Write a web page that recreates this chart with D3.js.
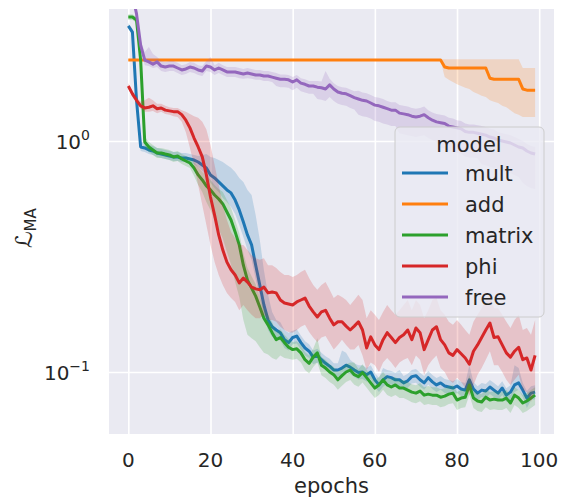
<!DOCTYPE html>
<html>
<head>
<meta charset="utf-8">
<script src="https://cdn.jsdelivr.net/npm/d3@7"></script>
<style>
body { margin: 0; background: #fff; }
text { font-family: "DejaVu Sans", sans-serif; fill: #262626; }
</style>
</head>
<body>
<script>
const width = 562;
const height = 499;

const models = ["mult", "add", "matrix", "phi", "free"];
const colors = ["#1f77b4", "#ff7f0e", "#2ca02c", "#d62728", "#9467bd"];
const epochs = d3.range(100);
const xTicks = [0, 20, 40, 60, 80, 100];
const yTicks = [0.1, 1];
const yTickExp = ["\u22121", "0"];

const multMean = [3.15,2.96,1.50,0.942,0.933,0.914,0.905,0.887,0.878,0.870,
0.861,0.853,0.853,0.844,0.844,0.836,0.827,0.811,0.787,0.764,
0.713,0.692,0.665,0.639,0.614,0.596,0.555,0.503,0.446,0.392,
0.355,0.290,0.238,0.195,0.168,0.157,0.152,0.148,0.138,0.134,
0.141,0.143,0.134,0.127,0.123,0.116,0.118,0.113,0.109,0.106,
0.102,0.102,0.104,0.107,0.105,0.102,0.0994,0.100,0.0974,0.100,
0.0925,0.0879,0.0925,0.0955,0.0945,0.0925,0.0925,0.0897,0.0916,0.0955,
0.0964,0.0925,0.0897,0.0945,0.0906,0.0879,0.0897,0.0870,0.0861,0.0852,
0.0870,0.0844,0.0835,0.0925,0.0844,0.0810,0.0835,0.0827,0.0861,0.0835,
0.0810,0.0852,0.0794,0.0818,0.0879,0.0897,0.0835,0.0771,0.0810,0.0818];
const multHi = [3.24,3.05,1.55,0.990,0.981,0.961,0.951,0.932,0.923,0.914,
0.905,0.897,0.897,0.887,0.887,0.879,0.869,0.861,0.870,0.879,
0.853,0.845,0.828,0.812,0.788,0.765,0.734,0.692,0.665,0.614,
0.584,0.477,0.373,0.276,0.216,0.182,0.168,0.164,0.152,0.148,
0.151,0.153,0.144,0.136,0.132,0.124,0.126,0.121,0.117,0.114,
0.109,0.109,0.124,0.121,0.113,0.109,0.107,0.107,0.104,0.107,
0.0992,0.0942,0.104,0.102,0.101,0.0992,0.102,0.0962,0.0982,0.102,
0.103,0.0992,0.0962,0.101,0.0971,0.0942,0.0962,0.0933,0.0923,0.0913,
0.0933,0.0905,0.0895,0.107,0.0905,0.0868,0.0895,0.0887,0.0923,0.0895,
0.0868,0.0913,0.0851,0.0877,0.107,0.104,0.0895,0.0827,0.0868,0.0877];
const multLo = [3.06,2.87,1.46,0.905,0.896,0.878,0.869,0.852,0.843,0.836,
0.827,0.819,0.819,0.811,0.811,0.803,0.794,0.772,0.741,0.705,
0.658,0.626,0.602,0.567,0.545,0.518,0.483,0.433,0.384,0.338,
0.306,0.252,0.211,0.176,0.152,0.142,0.140,0.137,0.127,0.124,
0.132,0.133,0.125,0.118,0.115,0.108,0.110,0.105,0.102,0.0989,
0.0952,0.0952,0.0970,0.0998,0.0980,0.0952,0.0927,0.0933,0.0909,0.0933,
0.0863,0.0820,0.0863,0.0891,0.0882,0.0863,0.0863,0.0837,0.0855,0.0891,
0.0899,0.0863,0.0837,0.0882,0.0845,0.0820,0.0837,0.0812,0.0803,0.0795,
0.0812,0.0787,0.0779,0.0863,0.0787,0.0756,0.0779,0.0772,0.0803,0.0779,
0.0756,0.0795,0.0741,0.0763,0.0820,0.0837,0.0779,0.0698,0.0756,0.0763];

const addMean = [2.24,2.24,2.24,2.24,2.24,2.24,2.24,2.24,2.24,2.24,
2.24,2.24,2.24,2.24,2.24,2.24,2.24,2.24,2.24,2.24,
2.24,2.24,2.24,2.24,2.24,2.24,2.24,2.24,2.24,2.24,
2.24,2.24,2.24,2.24,2.24,2.24,2.24,2.24,2.24,2.24,
2.24,2.24,2.24,2.24,2.24,2.24,2.24,2.24,2.24,2.24,
2.24,2.24,2.24,2.24,2.24,2.24,2.24,2.24,2.24,2.24,
2.24,2.24,2.24,2.24,2.24,2.24,2.24,2.24,2.24,2.24,
2.24,2.24,2.24,2.24,2.24,2.24,2.24,2.09,2.07,2.07,
2.07,2.07,2.07,2.07,2.07,2.07,2.07,2.07,1.87,1.85,
1.85,1.85,1.85,1.85,1.85,1.85,1.68,1.66,1.66,1.66];
const addHi = [2.26,2.26,2.26,2.26,2.26,2.26,2.26,2.26,2.26,2.26,
2.26,2.26,2.26,2.26,2.26,2.26,2.26,2.26,2.26,2.26,
2.26,2.26,2.26,2.26,2.26,2.26,2.26,2.26,2.26,2.26,
2.26,2.26,2.26,2.26,2.26,2.26,2.26,2.26,2.26,2.26,
2.26,2.26,2.26,2.26,2.26,2.26,2.26,2.26,2.26,2.26,
2.26,2.26,2.26,2.26,2.26,2.26,2.26,2.26,2.26,2.26,
2.26,2.26,2.26,2.26,2.26,2.26,2.26,2.26,2.26,2.26,
2.26,2.26,2.26,2.26,2.26,2.26,2.26,2.26,2.26,2.26,
2.26,2.26,2.26,2.26,2.26,2.26,2.26,2.26,2.26,2.26,
2.26,2.26,2.26,2.26,2.26,2.26,2.07,2.07,2.07,2.07];
const addLo = [2.22,2.22,2.22,2.22,2.22,2.22,2.22,2.22,2.22,2.22,
2.22,2.22,2.22,2.22,2.22,2.22,2.22,2.22,2.22,2.22,
2.22,2.22,2.22,2.22,2.22,2.22,2.22,2.22,2.22,2.22,
2.22,2.22,2.22,2.22,2.22,2.22,2.22,2.22,2.22,2.22,
2.22,2.22,2.22,2.22,2.22,2.22,2.22,2.22,2.22,2.22,
2.22,2.22,2.22,2.22,2.22,2.22,2.22,2.22,2.22,2.22,
2.22,2.22,2.22,2.22,2.22,2.22,2.22,2.22,2.22,2.22,
2.22,2.22,2.22,2.22,2.22,2.22,2.22,1.89,1.84,1.80,
1.76,1.73,1.70,1.68,1.63,1.60,1.57,1.55,1.50,1.48,
1.46,1.42,1.40,1.36,1.32,1.30,1.27,1.27,1.27,1.27];

const matrixMean = [3.44,3.44,3.34,2.24,0.990,0.942,0.914,0.887,0.887,0.878,
0.870,0.853,0.861,0.836,0.819,0.803,0.764,0.713,0.678,0.639,
0.614,0.584,0.561,0.534,0.493,0.455,0.404,0.355,0.290,0.250,
0.231,0.213,0.191,0.171,0.160,0.148,0.138,0.141,0.134,0.128,
0.125,0.126,0.121,0.113,0.109,0.116,0.121,0.107,0.104,0.100,
0.0974,0.0925,0.0964,0.100,0.102,0.0974,0.0955,0.0994,0.0945,0.0897,
0.0852,0.0879,0.0925,0.0879,0.0861,0.0879,0.0852,0.0852,0.0835,0.0818,
0.0810,0.0827,0.0794,0.0802,0.0794,0.0794,0.0778,0.0786,0.0802,0.0810,
0.0756,0.0771,0.0778,0.0879,0.0771,0.0749,0.0741,0.0778,0.0756,0.0763,
0.0756,0.0756,0.0771,0.0734,0.0794,0.0771,0.0734,0.0749,0.0771,0.0794];
const matrixHi = [3.54,3.54,3.44,2.31,1.04,0.990,0.961,0.932,0.932,0.923,
0.914,0.897,0.905,0.879,0.861,0.844,0.811,0.772,0.734,0.706,
0.678,0.645,0.620,0.602,0.556,0.513,0.455,0.400,0.327,0.282,
0.260,0.240,0.211,0.189,0.177,0.164,0.149,0.153,0.145,0.139,
0.135,0.136,0.131,0.122,0.118,0.126,0.140,0.116,0.113,0.108,
0.105,0.100,0.104,0.108,0.110,0.110,0.103,0.108,0.102,0.0971,
0.0923,0.0952,0.100,0.0952,0.0932,0.0952,0.0923,0.0923,0.0904,0.0886,
0.0877,0.0896,0.0860,0.0869,0.0860,0.0860,0.0843,0.0851,0.0869,0.0877,
0.0819,0.0835,0.0843,0.0971,0.0835,0.0811,0.0803,0.0843,0.0819,0.0826,
0.0819,0.0819,0.0835,0.0795,0.0860,0.0835,0.0795,0.0811,0.0835,0.0860];
const matrixLo = [3.34,3.34,3.24,2.17,0.942,0.896,0.870,0.844,0.844,0.835,
0.828,0.812,0.819,0.795,0.779,0.764,0.705,0.645,0.602,0.545,
0.503,0.455,0.416,0.377,0.331,0.291,0.245,0.211,0.168,0.145,
0.140,0.136,0.128,0.121,0.119,0.115,0.113,0.118,0.115,0.114,
0.113,0.114,0.110,0.102,0.0986,0.105,0.110,0.0968,0.0941,0.0905,
0.0881,0.0837,0.0872,0.0905,0.0923,0.0881,0.0864,0.0900,0.0855,0.0812,
0.0771,0.0795,0.0837,0.0795,0.0779,0.0795,0.0771,0.0771,0.0756,0.0740,
0.0733,0.0748,0.0719,0.0726,0.0719,0.0719,0.0704,0.0711,0.0726,0.0733,
0.0684,0.0698,0.0704,0.0795,0.0698,0.0678,0.0671,0.0704,0.0684,0.0690,
0.0684,0.0684,0.0698,0.0664,0.0719,0.0698,0.0664,0.0678,0.0698,0.0719];

const phiMean = [1.73,1.60,1.50,1.42,1.39,1.40,1.42,1.38,1.39,1.36,
1.35,1.34,1.34,1.30,1.23,1.14,1.03,0.942,0.853,0.713,
0.572,0.478,0.392,0.337,0.299,0.277,0.263,0.243,0.255,0.245,
0.233,0.229,0.227,0.233,0.220,0.222,0.220,0.205,0.199,0.197,
0.195,0.201,0.205,0.209,0.193,0.182,0.173,0.182,0.185,0.171,
0.160,0.165,0.165,0.158,0.152,0.158,0.165,0.152,0.127,0.142,
0.131,0.125,0.138,0.148,0.141,0.134,0.141,0.145,0.152,0.138,
0.155,0.148,0.125,0.138,0.152,0.157,0.138,0.131,0.121,0.118,
0.125,0.120,0.115,0.108,0.123,0.131,0.141,0.152,0.163,0.141,
0.142,0.131,0.121,0.116,0.123,0.128,0.113,0.115,0.102,0.118];
const phiHi = [1.78,1.65,1.55,1.48,1.50,1.54,1.50,1.45,1.45,1.42,
1.40,1.39,1.39,1.36,1.34,1.31,1.28,1.26,1.21,1.12,
0.961,0.787,0.645,0.528,0.455,0.404,0.380,0.355,0.355,0.337,
0.321,0.311,0.306,0.311,0.290,0.290,0.282,0.271,0.263,0.263,
0.258,0.263,0.271,0.277,0.255,0.238,0.227,0.238,0.245,0.227,
0.209,0.216,0.211,0.205,0.195,0.205,0.216,0.205,0.171,0.185,
0.177,0.168,0.182,0.195,0.185,0.177,0.185,0.195,0.205,0.185,
0.205,0.195,0.171,0.185,0.205,0.209,0.185,0.177,0.165,0.160,
0.168,0.160,0.152,0.145,0.165,0.177,0.189,0.205,0.216,0.189,
0.189,0.177,0.165,0.155,0.168,0.177,0.152,0.155,0.145,0.168];
const phiLo = [1.68,1.55,1.46,1.38,1.34,1.34,1.35,1.32,1.34,1.31,
1.30,1.28,1.27,1.21,1.09,0.933,0.787,0.645,0.528,0.433,
0.355,0.299,0.263,0.238,0.220,0.209,0.201,0.185,0.195,0.185,
0.177,0.171,0.171,0.177,0.168,0.168,0.165,0.157,0.152,0.149,
0.148,0.152,0.157,0.160,0.149,0.141,0.135,0.141,0.143,0.134,
0.125,0.131,0.138,0.131,0.125,0.125,0.131,0.118,0.102,0.110,
0.107,0.100,0.110,0.115,0.110,0.104,0.110,0.113,0.115,0.107,
0.118,0.113,0.0974,0.107,0.113,0.118,0.104,0.100,0.0925,0.0897,
0.0945,0.0906,0.0852,0.0794,0.0879,0.0974,0.104,0.113,0.123,0.107,
0.107,0.100,0.0925,0.0879,0.0925,0.0974,0.0835,0.0818,0.0741,0.0835];

const freeMean = [5.5,4.3,3.55,2.60,2.24,2.20,2.15,2.20,2.11,2.09,
2.11,2.11,2.07,2.03,2.05,2.09,2.07,2.03,2.01,2.11,
2.09,2.03,2.07,2.03,1.99,1.99,1.99,1.97,1.95,1.97,
1.95,1.93,1.93,1.91,1.91,1.89,1.87,1.85,1.85,1.84,
1.80,1.84,1.78,1.76,1.73,1.73,1.71,1.70,1.68,1.75,
1.68,1.63,1.61,1.60,1.57,1.54,1.52,1.50,1.49,1.46,
1.43,1.42,1.40,1.38,1.36,1.36,1.32,1.31,1.30,1.28,
1.27,1.28,1.30,1.26,1.23,1.21,1.20,1.19,1.16,1.15,
1.14,1.13,1.10,1.09,1.09,1.08,1.07,1.06,1.04,1.03,
1.01,1.00,0.990,0.980,0.961,0.942,0.933,0.905,0.887,0.878];
const freeHi = [5.78,4.52,3.73,2.73,2.43,2.55,2.38,2.31,2.22,2.20,
2.22,2.22,2.18,2.13,2.15,2.20,2.18,2.13,2.11,2.22,
2.31,2.13,2.18,2.13,2.09,2.09,2.09,2.07,2.05,2.07,
2.05,2.03,2.03,2.01,2.01,1.99,1.97,1.94,1.94,1.93,
1.89,1.93,1.87,1.85,1.82,1.82,1.82,1.81,2.01,1.86,
1.78,1.73,1.71,1.70,1.67,1.64,1.65,1.62,1.61,1.58,
1.55,1.54,1.52,1.49,1.47,1.47,1.43,1.42,1.41,1.39,
1.38,1.39,1.41,1.36,1.33,1.31,1.30,1.29,1.26,1.25,
1.23,1.22,1.19,1.18,1.18,1.17,1.16,1.15,1.13,1.12,
1.09,1.08,1.07,1.06,1.04,1.02,1.00,0.970,0.951,0.941];
const freeLo = [5.24,4.10,3.38,2.47,2.13,2.11,2.07,2.09,2.01,1.99,
2.01,2.01,1.97,1.93,1.95,1.99,1.97,1.93,1.91,2.01,
1.99,1.93,1.97,1.93,1.89,1.89,1.89,1.87,1.86,1.87,
1.86,1.84,1.84,1.82,1.82,1.80,1.73,1.71,1.71,1.70,
1.66,1.70,1.64,1.62,1.60,1.60,1.52,1.51,1.49,1.55,
1.49,1.45,1.43,1.42,1.39,1.37,1.30,1.28,1.27,1.25,
1.22,1.21,1.19,1.18,1.16,1.16,1.08,1.07,1.06,1.05,
1.04,1.05,1.06,1.03,1.01,0.991,0.935,0.927,0.904,0.896,
0.888,0.880,0.857,0.849,0.849,0.841,0.794,0.786,0.772,0.764,
0.749,0.742,0.735,0.727,0.713,0.699,0.659,0.639,0.626,0.620];

const means = [multMean, addMean, matrixMean, phiMean, freeMean];
const lows = [multLo, addLo, matrixLo, phiLo, freeLo];
const highs = [multHi, addHi, matrixHi, phiHi, freeHi];

// plot area box
const box = {left: 109, right: 554, top: 9, bottom: 434};

const x = d3.scaleLinear().domain([-4.7, 103.6]).range([box.left, box.right]);
const y = d3.scaleLog().domain([0.0539, 3.727]).range([box.bottom, box.top]);

const svg = d3.select("body")
    .append("svg")
    .attr("width", width)
    .attr("height", height);

svg.append("defs").append("clipPath")
    .attr("id", "plotclip")
    .append("rect")
    .attr("x", box.left).attr("y", box.top)
    .attr("width", box.right - box.left).attr("height", box.bottom - box.top);

svg.append("rect")
    .attr("x", box.left).attr("y", box.top)
    .attr("width", box.right - box.left).attr("height", box.bottom - box.top)
    .attr("fill", "#eaeaf2");

// grid
let gx = svg.append("g")
    .attr("transform", `translate(0,${box.bottom})`)
    .call(d3.axisBottom(x).tickValues(xTicks).tickSize(-(box.bottom - box.top)).tickFormat(""));
let gy = svg.append("g")
    .attr("transform", `translate(${box.left},0)`)
    .call(d3.axisLeft(y).tickValues(yTicks).tickSize(-(box.right - box.left)).tickFormat(""));
[gx, gy].forEach(g => {
    g.select(".domain").remove();
    g.selectAll(".tick line").attr("stroke", "#fff").attr("stroke-width", 1.6);
});

// bands and lines
const plot = svg.append("g").attr("clip-path", "url(#plotclip)");

const area = (lo, hi) => d3.area()
    .x(i => x(epochs[i]))
    .y0(i => y(lo[i]))
    .y1(i => y(hi[i]));

const line = (m) => d3.line()
    .x(i => x(epochs[i]))
    .y(i => y(m[i]));

models.forEach((name, k) => {
    plot.append("path")
        .attr("d", area(lows[k], highs[k])(epochs))
        .attr("fill", colors[k])
        .attr("fill-opacity", 0.2)
        .attr("stroke", "none");
    plot.append("path")
        .attr("d", line(means[k])(epochs))
        .attr("fill", "none")
        .attr("stroke", colors[k])
        .attr("stroke-width", 3)
        .attr("stroke-linejoin", "round");
});

// tick labels
svg.selectAll(".xlab")
    .data(xTicks)
    .enter()
    .append("text")
    .attr("class", "xlab")
    .attr("x", d => x(d))
    .attr("y", 467)
    .attr("text-anchor", "middle")
    .style("font-size", "20px")
    .text(d => d);

let ylab = svg.selectAll(".ylab")
    .data(yTicks)
    .enter()
    .append("text")
    .attr("class", "ylab")
    .attr("x", 90)
    .attr("y", d => y(d) + 8)
    .attr("text-anchor", "end")
    .style("font-size", "20px");
ylab.append("tspan").text("10");
ylab.append("tspan")
    .attr("dy", -9)
    .style("font-size", "14px")
    .text((d, i) => yTickExp[i]);

// axis labels
svg.append("text")
    .attr("x", (box.left + box.right) / 2)
    .attr("y", 493)
    .attr("text-anchor", "middle")
    .style("font-size", "21px")
    .text("epochs");

let yt = svg.append("text")
    .attr("transform", "translate(32,248) rotate(-90)")
    .style("font-size", "23px");
yt.append("tspan").text("\u2112");
yt.append("tspan").attr("dy", 4).style("font-size", "15px").text("MA");

// legend
const leg = svg.append("g").attr("class", "legend");
leg.append("rect")
    .attr("x", 395).attr("y", 127)
    .attr("width", 149).attr("height", 190)
    .attr("rx", 5)
    .attr("fill", "#eaeaf2")
    .attr("fill-opacity", 0.8)
    .attr("stroke", "#cccccc")
    .attr("stroke-width", 1);
leg.append("text")
    .attr("x", 469).attr("y", 152)
    .attr("text-anchor", "middle")
    .style("font-size", "21px")
    .text("model");
let items = leg.selectAll(".item")
    .data(models)
    .enter()
    .append("g")
    .attr("class", "item")
    .attr("transform", (d, i) => `translate(0,${173 + 31 * i})`);
items.append("line")
    .attr("x1", 402).attr("x2", 448)
    .attr("stroke", (d, i) => colors[i])
    .attr("stroke-width", 3);
items.append("text")
    .attr("x", 465).attr("y", 8)
    .style("font-size", "21px")
    .text(d => d);
</script>
</body>
</html>
